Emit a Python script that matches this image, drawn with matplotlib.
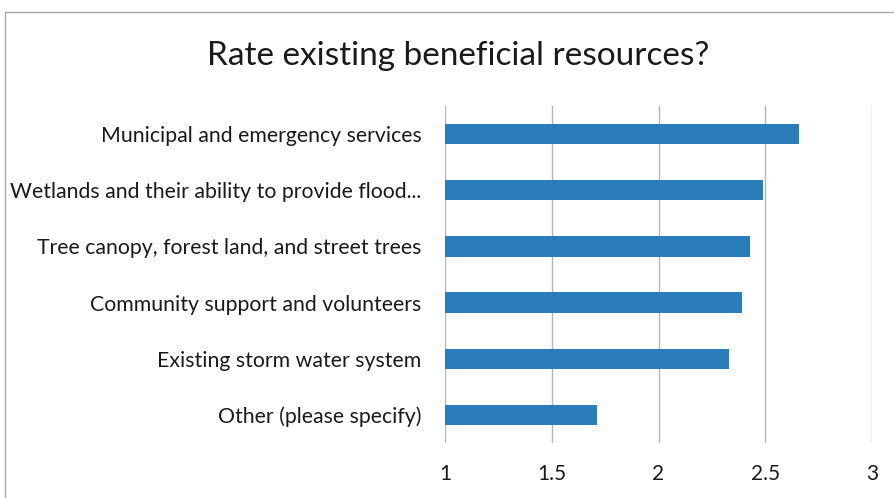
import matplotlib.pyplot as plt
from matplotlib.patches import Rectangle

categories = [
    "Municipal and emergency services",
    "Wetlands and their ability to provide flood...",
    "Tree canopy, forest land, and street trees",
    "Community support and volunteers",
    "Existing storm water system",
    "Other (please specify)",
]
ratings = [2.66, 2.49, 2.43, 2.39, 2.33, 1.71]
ticks = [1, 1.5, 2, 2.5, 3]
tick_labels = ["1", "1.5", "2", "2.5", "3"]

plt.rcParams["font.family"] = ["Lato", "DejaVu Sans"]

fig = plt.figure(figsize=(8.94, 4.98), dpi=100)

# outer chart frame
fig.patches.append(
    Rectangle((5 / 894, -0.01), 1.0, 1 - 12 / 498 + 0.01,
              transform=fig.transFigure, fill=False,
              edgecolor="#a8a8a8", linewidth=1)
)

ax = fig.add_axes([445 / 894, 1 - 443 / 498, (872 - 445) / 894, (443 - 106) / 498])

y = list(range(len(categories)))
ax.barh(y, [r - 1 for r in ratings], left=1, height=0.36,
        color="#2a7db9", zorder=3)

ax.set_xlim(1, 3)
ax.set_ylim(len(categories) - 0.5, -0.5)
ax.set_xticks(ticks)
ax.set_xticklabels(tick_labels, fontsize=15)
ax.set_yticks(y)
ax.set_yticklabels(categories, fontsize=15.3)
ax.tick_params(axis="both", length=0, colors="#1a1a1a")
ax.tick_params(axis="y", pad=17)
ax.tick_params(axis="x", pad=15)
ax.grid(axis="x", color="#b5b5b5", linewidth=1, zorder=0)
for s in ax.spines.values():
    s.set_visible(False)

fig.text(458 / 894, 1 - 56 / 498, "Rate existing beneficial resources?",
         ha="center", va="center", fontsize=24, color="#1a1a1a")

fig.savefig("out.png", dpi=100)
